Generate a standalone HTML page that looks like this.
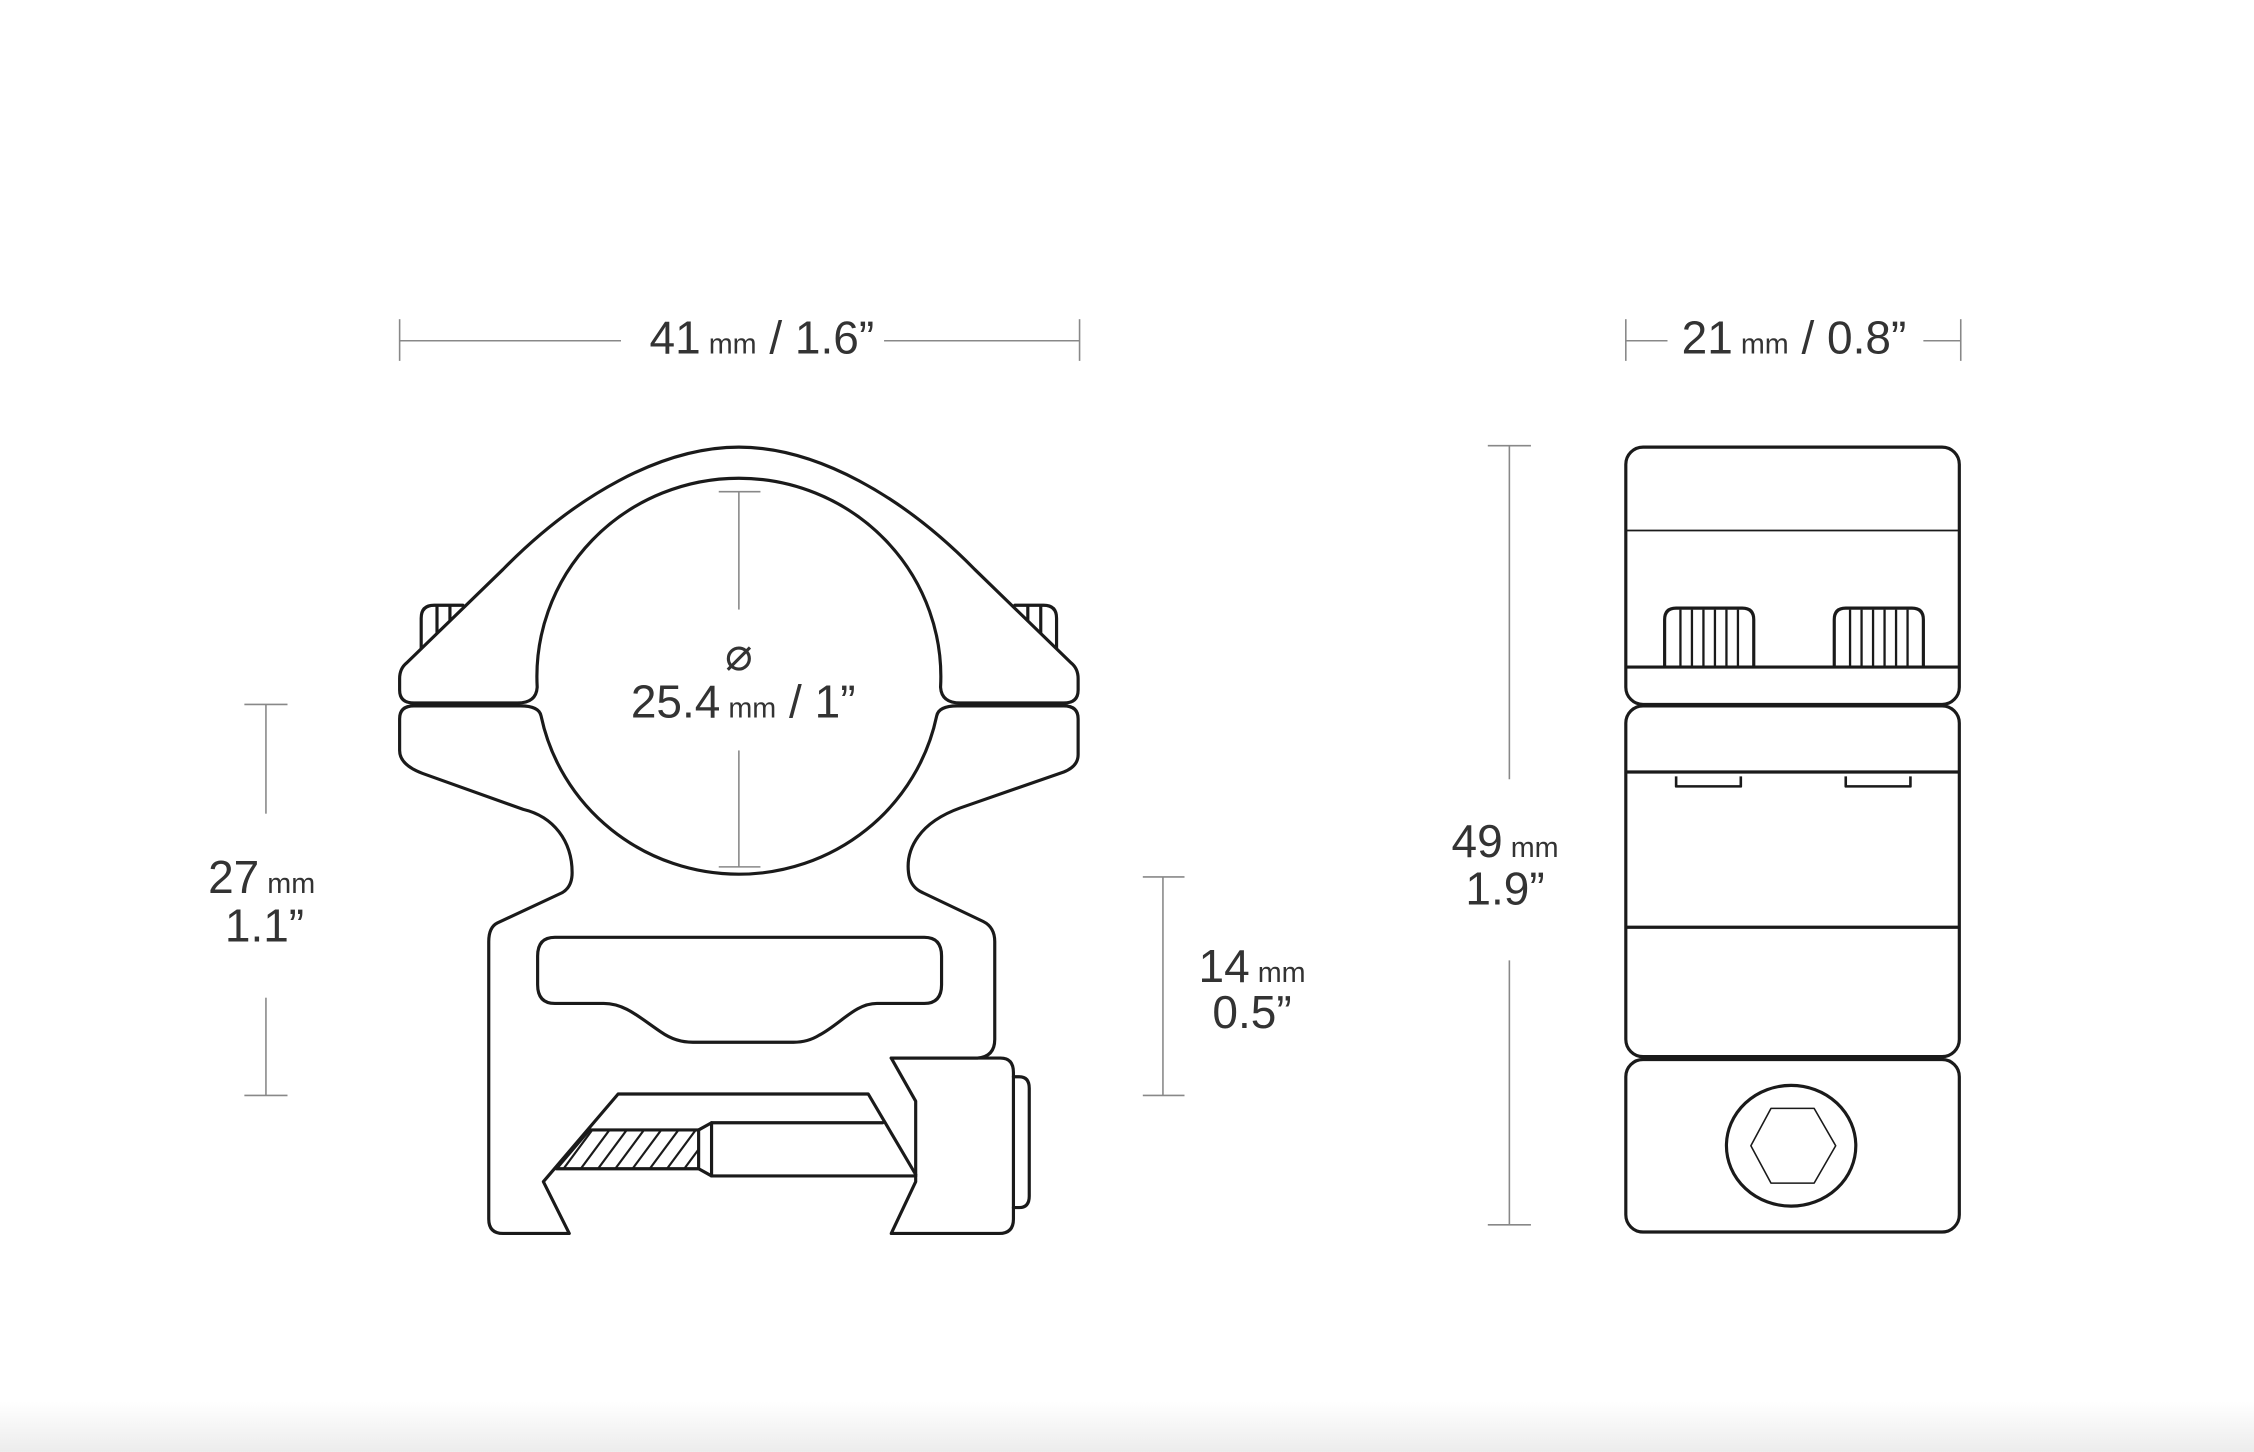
<!DOCTYPE html>
<html><head><meta charset="utf-8"><style>
html,body{margin:0;padding:0;background:#fff;}
svg{display:block;}
text{font-family:"Liberation Sans",sans-serif;fill:#333;}
</style></head><body>
<svg width="2254" height="1452" viewBox="0 0 1568 1010" xmlns="http://www.w3.org/2000/svg">
<defs>
<linearGradient id="bg" x1="0" y1="0" x2="0" y2="1"><stop offset="0" stop-color="#fff"/><stop offset="1" stop-color="#ececec"/></linearGradient>
<clipPath id="hc"><polygon points="410,786 486,786 486,813 387,813"/></clipPath>
</defs>
<rect x="0" y="975" width="1568" height="35" fill="url(#bg)"/>

<g stroke="#888" stroke-width="1.1" fill="none">
<line x1="278" y1="237" x2="432" y2="237"/><line x1="615" y1="237" x2="751" y2="237"/>
<line x1="278" y1="222" x2="278" y2="251"/><line x1="751" y1="222" x2="751" y2="251"/>
<line x1="185" y1="490" x2="185" y2="566"/><line x1="185" y1="694" x2="185" y2="762"/>
<line x1="170" y1="490" x2="200" y2="490"/><line x1="170" y1="762" x2="200" y2="762"/>
<line x1="514" y1="342" x2="514" y2="424"/><line x1="514" y1="522" x2="514" y2="603"/>
<line x1="500" y1="342" x2="529" y2="342"/><line x1="500" y1="603" x2="529" y2="603"/>
<line x1="809" y1="610" x2="809" y2="762"/>
<line x1="795" y1="610" x2="824" y2="610"/><line x1="795" y1="762" x2="824" y2="762"/>
<line x1="1131" y1="237" x2="1160" y2="237"/><line x1="1338" y1="237" x2="1364" y2="237"/>
<line x1="1131" y1="222" x2="1131" y2="251"/><line x1="1364" y1="222" x2="1364" y2="251"/>
<line x1="1050" y1="310" x2="1050" y2="542"/><line x1="1050" y1="668" x2="1050" y2="852"/>
<line x1="1035" y1="310" x2="1065" y2="310"/><line x1="1035" y1="852" x2="1065" y2="852"/>
</g>

<text x="530" y="246" text-anchor="middle" font-size="32">41<tspan font-size="20"> mm</tspan> / 1.6”</text>
<text x="1248" y="246" text-anchor="middle" font-size="32">21<tspan font-size="20"> mm</tspan> / 0.8”</text>
<text x="182" y="621" text-anchor="middle" font-size="32">27<tspan font-size="20"> mm</tspan></text>
<text x="184" y="655" text-anchor="middle" font-size="32">1.1”</text>
<text x="514" y="466" text-anchor="middle" font-size="32">⌀</text>
<text x="517" y="499" text-anchor="middle" font-size="32">25.4<tspan font-size="20"> mm</tspan> / 1”</text>
<text x="871" y="683" text-anchor="middle" font-size="32">14<tspan font-size="20"> mm</tspan></text>
<text x="871" y="715" text-anchor="middle" font-size="32">0.5”</text>
<text x="1047" y="596" text-anchor="middle" font-size="32">49<tspan font-size="20"> mm</tspan></text>
<text x="1047" y="629" text-anchor="middle" font-size="32">1.9”</text>

<g stroke="#1a1a1a" stroke-width="2.2" fill="none" stroke-linejoin="round" stroke-linecap="round">
<path d="M293,451 L293,430 Q293,421 302,421 L322,421"/>
<path d="M304,422 L304,440 M313,422 L313,431"/>
<path d="M735,451 L735,430 Q735,421 726,421 L706,421"/>
<path d="M724,422 L724,440 M715,422 L715,431"/>
<path d="M283,461 L350,396 C400,345 460,311 514,311 C568,311 628,345 678,396 L745,461 Q750,465 750,472 L750,480 Q750,489 740,489 L668,489 Q655,489 654.3,478 A140.5 138 0 1 0 373.7,478 Q373,489 360,489 L288,489 Q278,489 278,480 L278,472 Q278,465 283,461 Z" fill="#fff"/>
<path d="M288,491 L362,491 Q375,491 376.4,498 A140.5 138 0 0 0 651.6,498 Q653,491 666,491 L740,491 Q750,491 750,500 L750,525 Q750,533 740,537 L668,562 C640,572 630,590 632,607 Q633,617 642,621 L684,641 Q692,645 692,655 L692,723 Q692,735 680,736 L620,736 M637,817 L604,761 L430,761 L378,822 L396,858 L350,858 Q340,858 340,848 L340,655 Q340,645 346,642 L391,621 Q398,617 398,607 C398,585 385,568 364,563 L294,538 Q278,532 278,522 L278,500 Q278,491 288,491"/>
<path d="M386,652 L643,652 Q655,652 655,665 L655,685 Q655,698 643,698 L610,698 C595,698 585,712 570,720 Q562,725 552,725 L482,725 Q470,725 460,718 C445,708 435,698 420,698 L386,698 Q374,698 374,685 L374,665 Q374,652 386,652 Z"/>
<path d="M620,736 L696,736 Q705,736 705,746 L705,848 Q705,858 695,858 L620,858 L637,822 L637,766 Z"/>
<path d="M705,749 L709,749 Q716,749 716,757 L716,832 Q716,840 709,840 L705,840"/>
<polygon points="410,786 486,786 486,813 387,813"/>
<path d="M486,786 L495,781 L495,818 L486,813"/>
<path d="M495,781 L614,781 M495,818 L637,818"/>
</g>
<g clip-path="url(#hc)" stroke="#1a1a1a" stroke-width="1.5">
<line x1="380" y1="813" x2="400" y2="786"/><line x1="392" y1="813" x2="412" y2="786"/>
<line x1="404" y1="813" x2="424" y2="786"/><line x1="416" y1="813" x2="436" y2="786"/>
<line x1="428" y1="813" x2="448" y2="786"/><line x1="440" y1="813" x2="460" y2="786"/>
<line x1="452" y1="813" x2="472" y2="786"/><line x1="464" y1="813" x2="484" y2="786"/>
<line x1="476" y1="813" x2="496" y2="786"/>
</g>

<g stroke="#1a1a1a" stroke-width="2.2" fill="none" stroke-linejoin="round">
<rect x="1131" y="311" width="232" height="179" rx="12"/>
<line x1="1131" y1="369" x2="1363" y2="369" stroke-width="1.2"/>
<line x1="1131" y1="464" x2="1363" y2="464"/>
<path d="M1158,464 L1158,431 Q1158,423 1166,423 L1212,423 Q1220,423 1220,431 L1220,464"/>
<path d="M1276,464 L1276,431 Q1276,423 1284,423 L1330,423 Q1338,423 1338,431 L1338,464"/>
<path stroke-width="1.6" d="M1169,424 V464 M1177,424 V464 M1185,424 V464 M1193,424 V464 M1201,424 V464 M1209,424 V464 M1287,424 V464 M1295,424 V464 M1303,424 V464 M1311,424 V464 M1319,424 V464 M1327,424 V464"/>
<rect x="1131" y="491" width="232" height="244" rx="12"/>
<line x1="1131" y1="537" x2="1363" y2="537"/>
<line x1="1131" y1="645" x2="1363" y2="645"/>
<path stroke-width="1.8" d="M1166,540 L1166,547 L1211,547 L1211,540 M1284,540 L1284,547 L1329,547 L1329,540"/>
<rect x="1131" y="737" width="232" height="120" rx="12"/>
<ellipse cx="1246" cy="797" rx="45" ry="42"/>
<polygon stroke-width="1.1" points="1232,771 1262,771 1277,797 1262,823 1232,823 1218,797"/>
</g>
</svg>
</body></html>
